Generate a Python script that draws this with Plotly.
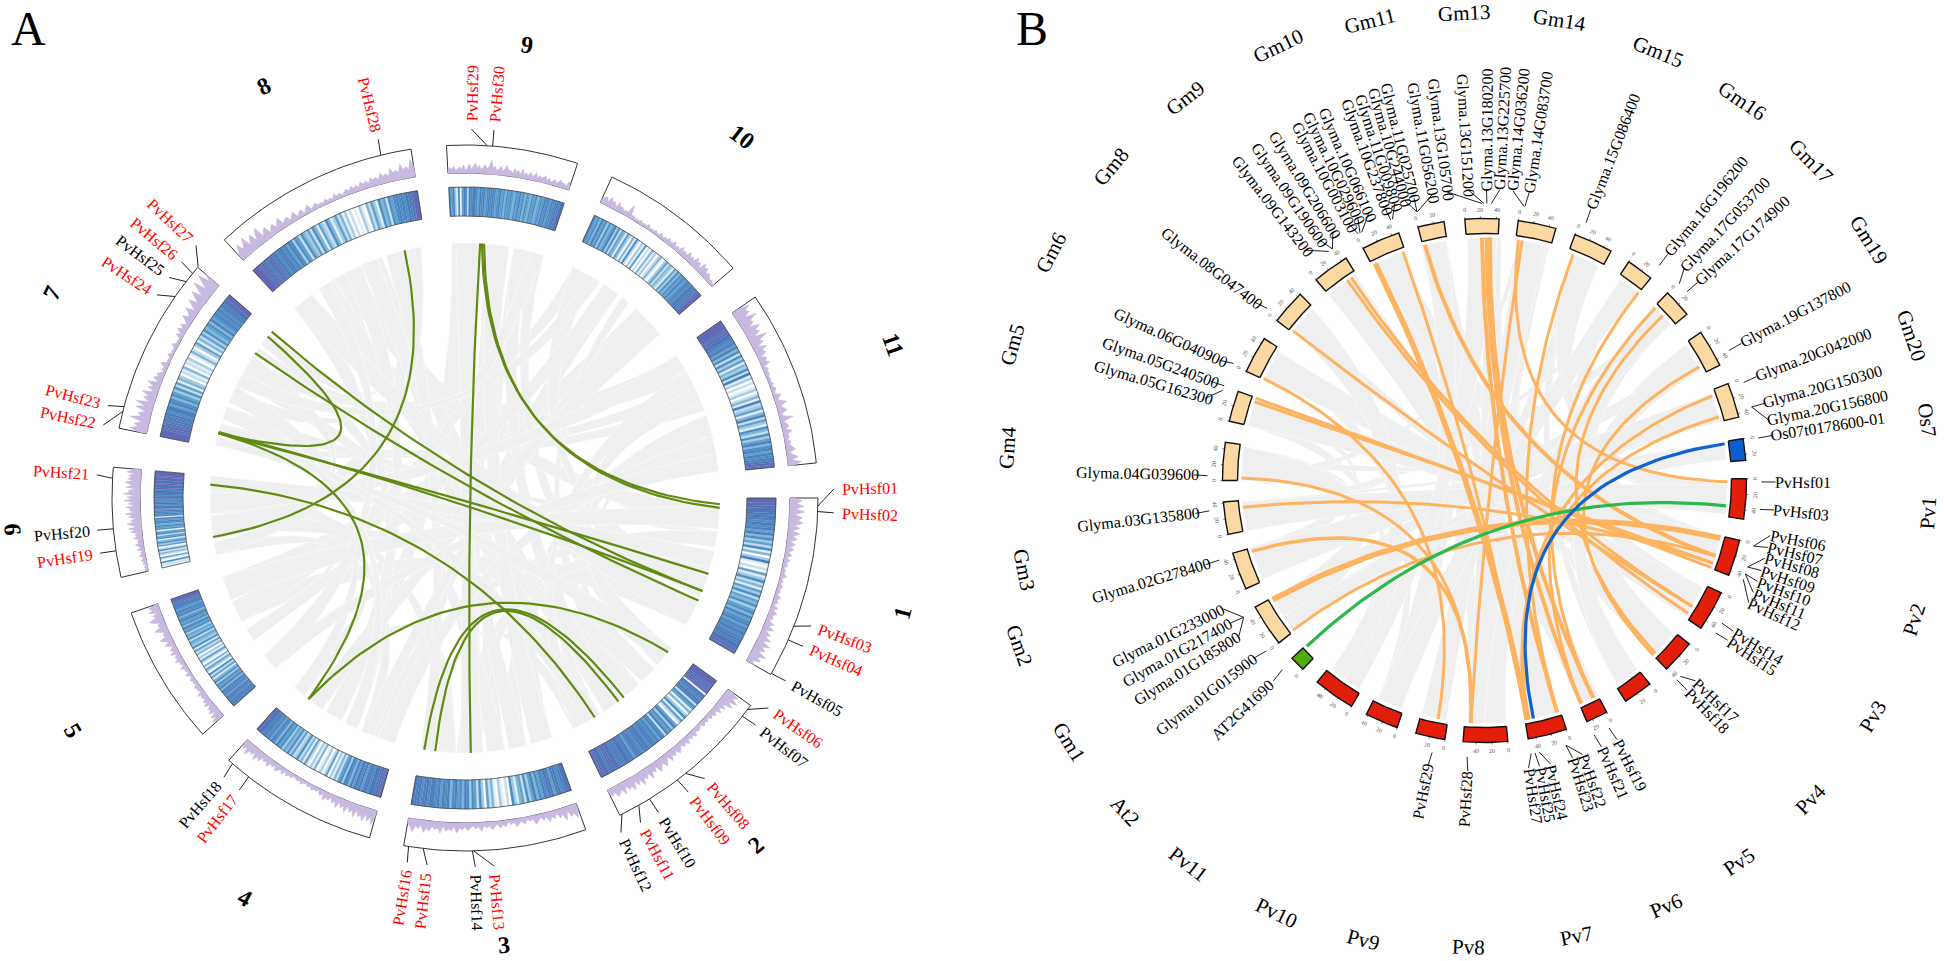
"""Two circos panels: Hsf gene collinearity (A) and synteny across species (B)."""

import math

import plotly.graph_objects as go

# --- panel A data ---------------------------------------------------------
SECTORS_A = ["1", "2", "3", "4", "5", "6", "7", "8", "9", "10", "11"]
SPANS_A = [(90, 120), (126, 154), (160, 190), (195.7, 222), (228, 251), (257, 275),
           (281.4, 310.8), (317, 351.2), (357, 378.6), (24.6, 49.4), (55.3, 84.3)]
SECTOR_LABEL_POS_A = [(104.7, 452), (140, 453), (175, 449), (208.8, 456), (239.4, 456), (266, 453),
                      (296.4, 461), (334, 458), (7.8, 457), (37.5, 455), (70.3, 455)]

HEAT_1 = [9,9,8,9,8,8,7,8,7,6,8,6,7,5,7,4,6,3,5,2,6,1,4,0,3,7,1,0,2,0,5,1,3,6,2,4,1,5,3,6,2,5,4,6,3,5,6,4,7,5,6,7,5,7,6,8,6,7,8,7,8,8,9,8]
HEAT_2 = [9,9,9,8,9,8,9,1,8,7,6,8,7,2,6,5,1,4,0,3,6,1,5,2,0,5,7,3,6,5,7,2,6,7,5,7,6,7,8,6,7,7,8,6,7,8,7,5,8,7,8,8,7,8,7,8,8,9,8,7,8,8,9,8]
HEAT_3 = [8,8,7,6,8,7,5,7,8,6,7,5,6,4,7,5,3,6,2,5,4,1,3,6,0,2,0,1,3,0,1,4,2,5,0,3,6,2,5,6,3,6,7,4,6,5,7,6,4,7,6,7,5,7,6,7,7,6,8,7,6,8,7,8]
HEAT_4 = [9,8,9,7,8,8,6,8,7,5,7,6,8,5,7,4,6,7,3,6,5,2,4,1,3,0,5,2,0,3,1,0,4,1,3,0,2,5,1,4,2,6,3,2,5,3,6,4,5,3,6,5,7,4,6,7,5,7,6,8,7,8,8,9]
HEAT_5 = [8,7,8,6,7,8,5,7,6,8,4,7,5,6,3,6,4,1,5,2,6,0,3,5,1,4,0,2,5,1,3,0,4,2,5,1,6,3,4,5,2,6,4,5,3,6,5,7,4,6,5,7,6,4,7,6,7,5,7,8,7,8,9,9]
HEAT_6 = [0,2,1,6,0,1,5,0,2,4,1,6,2,0,5,3,6,4,1,6,5,2,6,5,0,6,5,7,4,6,7,5,7,1,6,7,6,8,5,7,7,6,8,7,6,8,7,8,7,8,8,7,9,8,8,9,8,8,9,9,8,9,9,9]
HEAT_7 = [9,9,9,8,9,8,7,8,7,8,6,7,7,5,7,6,4,6,5,3,6,2,5,1,4,3,0,2,1,4,0,2,1,3,0,1,4,2,0,3,5,1,4,2,5,3,6,4,5,6,4,7,5,6,7,6,7,6,8,7,8,8,9,9]
HEAT_8 = [9,9,9,8,9,8,7,9,8,7,8,6,7,8,6,7,5,7,6,3,6,5,2,6,4,3,5,2,6,4,1,5,3,2,6,4,1,3,5,2,4,1,3,0,2,0,1,0,3,1,0,4,2,5,3,1,6,4,5,2,6,5,6,7,6,7,6,8,7,8,9,9]
HEAT_9 = [6,5,7,3,1,6,0,5,7,6,2,7,6,7,7,6,5,7,6,7,5,6,7,6,7,6,5,6,7,5,6,4,6,5,6,5,4,6,5,7,5,6,4,6,5,4,6,5,6,4,5,6,5,7,6,7,5,7,6,7,8,7,8,8]
HEAT_10 = [7,5,6,4,7,5,6,3,6,4,5,7,3,6,2,5,4,1,5,3,0,4,1,6,2,0,3,1,5,0,2,0,4,1,3,0,2,4,1,0,3,5,2,4,3,1,5,3,6,4,6,5,7,5,6,7,6,7,7,8,7,8,9,9]
HEAT_11 = [9,9,9,9,8,9,8,8,7,6,8,5,7,4,6,2,6,3,5,1,4,3,6,2,7,1,3,0,2,0,1,3,0,2,4,1,7,2,3,5,1,4,7,2,5,3,1,6,4,2,6,3,5,7,4,6,7,5,7,6,7,8,9,8]
HEATS = [HEAT_1, HEAT_2, HEAT_3, HEAT_4, HEAT_5, HEAT_6, HEAT_7, HEAT_8, HEAT_9, HEAT_10, HEAT_11]

HIST_1 = [4,12,7,14,6,15,5,13,9,14,6,11,4,12,5,10,3,9,4,8,3,7,2,6,3,5,2,4,3,6,2,4,2,5,3,4,2,6,3,5,2,7,3,8,4,6,3,9,5,11,4,10,6,13,5,15,7,12,6,16,8,13,5,9]
HIST_2 = [6,14,9,17,8,15,5,10,4,9,3,7,4,6,2,5,3,6,2,4,5,3,7,4,6,3,8,4,7,3,6,9,4,8,5,10,4,7,11,5,8,12,4,9,6,13,5,10,7,14,6,11,5,13,8,10,4,12,6,9,11,5,8,4]
HIST_3 = [5,14,8,11,4,13,6,9,3,8,5,10,4,7,3,6,9,3,5,2,7,3,5,8,3,5,2,6,4,7,3,5,8,4,6,3,9,4,6,3,5,8,4,7,5,10,4,8,6,9,4,11,6,8,5,10,7,12,5,9,6,13,8,5]
HIST_4 = [5,15,8,13,6,14,9,11,5,13,7,10,4,12,6,9,4,11,5,8,3,7,5,9,3,6,2,4,3,5,2,4,2,3,5,2,4,3,2,5,3,6,2,7,3,5,8,3,6,4,9,5,7,4,10,6,12,5,9,7,13,6,10,4]
HIST_5 = [5,13,7,11,4,10,6,8,3,9,5,7,3,6,4,8,2,5,3,6,2,4,3,5,2,3,6,2,4,3,7,2,5,3,8,4,6,3,9,4,7,3,5,10,4,8,12,5,7,4,9,13,6,8,5,11,14,6,9,4,12,7,10,3]
HIST_6 = [1,3,2,3,1,4,2,5,3,2,6,3,4,2,7,3,5,8,4,6,3,9,5,7,4,11,6,13,5,9,14,7,10,5,12,8,15,6,11,9,14,5,12,7,16,8,13,6,17,10,12,5,14,8,11,15,7,13,9,12,6,14,10,7]
HIST_7 = [6,18,10,14,7,20,9,13,6,17,8,18,5,12,7,15,4,11,6,13,3,9,5,7,2,4,3,8,2,3,2,5,2,3,2,6,2,3,2,7,3,9,4,8,3,6,11,5,8,13,4,9,15,6,11,17,7,14,21,8,16,22,10,18]
HIST_8 = [4,10,16,8,12,18,7,11,15,6,13,17,5,10,12,4,8,10,5,9,12,4,7,8,3,6,9,3,5,7,2,5,8,2,4,6,3,4,2,5,3,4,2,6,3,5,2,4,6,3,7,4,6,3,8,5,7,4,9,6,8,5,11,7,9,6,13,8,10,7,15,9,12,8,18,11]
HIST_9 = [3,6,4,7,3,5,6,4,8,3,5,9,4,7,10,5,8,4,6,9,5,7,14,6,8,4,6,9,4,7,10,5,6,3,8,5,7,3,9,4,6,3,7,5,4,8,3,6,4,5,7,3,6,2,4,6,3,5,7,4,5,3,8,4]
HIST_10 = [3,7,8,4,10,6,7,3,9,5,6,3,5,4,13,3,4,2,3,2,4,2,3,2,5,2,3,2,4,2,3,5,2,4,3,6,3,4,7,2,5,3,8,4,6,3,9,5,7,4,10,6,8,3,11,7,9,4,7,5,3,4,2,3]
HIST_11 = [5,18,12,15,8,20,11,13,7,17,10,14,6,19,9,12,5,13,7,10,3,8,5,9,2,5,3,4,2,3,2,4,2,5,3,2,8,3,5,11,4,6,9,3,4,13,3,5,7,3,9,4,5,3,6,4,7,9,3,6,11,4,14,5]
HISTS = [HIST_1, HIST_2, HIST_3, HIST_4, HIST_5, HIST_6, HIST_7, HIST_8, HIST_9, HIST_10, HIST_11]

# gene name, angle on the ring, angle of the label
GENES_A = [
    ("PvHsf01", 91.3, 88.6), ("PvHsf02", 92.2, 92.3), ("PvHsf03", 111.3, 110.3), ("PvHsf04", 113.7, 113.7),
    ("PvHsf05", 119.8, 119.7), ("PvHsf06", 126.8, 124.7), ("PvHsf07", 128.2, 128), ("PvHsf08", 141.3, 139.5),
    ("PvHsf09", 143, 142.8), ("PvHsf10", 148.5, 148.4), ("PvHsf11", 150.5, 151.6), ("PvHsf12", 153.6, 155),
    ("PvHsf13", 178.6, 175.5), ("PvHsf14", 178.8, 178.4), ("PvHsf15", 186.8, 185.9), ("PvHsf16", 189.2, 189),
    ("PvHsf17", 217.8, 217.7), ("PvHsf18", 221.2, 220.8), ("PvHsf19", 261.4, 261.4), ("PvHsf20", 265, 265),
    ("PvHsf21", 273.2, 273.6), ("PvHsf22", 284.2, 281.4), ("PvHsf23", 285, 284.5), ("PvHsf24", 304.8, 303.4),
    ("PvHsf25", 307.8, 306.7), ("PvHsf26", 309.5, 309.8), ("PvHsf27", 310.9, 313.2), ("PvHsf28", 346.2, 346.4),
    ("PvHsf29", 3.6, 1), ("PvHsf30", 4.5, 4.5),
]
BLACK_A = ["PvHsf05", "PvHsf07", "PvHsf10", "PvHsf12", "PvHsf14", "PvHsf18", "PvHsf20", "PvHsf25"]

GRAY_A = [
    (42,50,246.5,252), (56,62,318,323), (63,66,282,284), (67,70,285,287), (71,75,160,165), (76,79,92,97),
    (80,84,108,113), (25,28,296,299), (29,32,300,303), (33,37,196,200), (38,40,137,141), (357,364,209,213),
    (5,10,176,181), (11,14,171,175), (15,18,126,131), (342,350,260.5,266), (336,341,142,147), (332,335,304,306),
    (329,331,307,310), (325,328,292,295), (97.5,99,288,291), (100,101,166,170), (102,104,148,151), (105,107,132,136),
    (114,120,241,246), (152,155,187,190), (182,186,214,218), (201,204,266.5,271), (205,208,271.5,275),
    (219,222,228,231), (236,239,257,260),
    (92,97,329,335), (97.5,101,200,204), (102,107,176,182), (108,113,25,30), (114,120,63,68),
    (126,131,71,76), (132,136,262,266), (137,141,297,300), (142,147,11,15), (148,151,325,329), (152,155,60,64),
    (160,165,5,10), (166,170,336,340), (171,175,307,310), (176,181,358,363), (182,186,270,274), (187,190,342,346),
    (196,200,76,80), (201,204,42,46), (205,208,318,322), (209,213,332,336), (214,218,46,50), (219,222,292,296),
    (228,231,80,84), (236,239,33,37), (241,246,15,18), (246.5,252,92,97),
    (257,260,347,350), (260.5,266,300,304), (266.5,271,56,60), (271.5,275,102,106),
    (282,284,126,130), (285,287,148,152), (288,291,205,208), (296,299,29,32),
    (318,323,114,120), (325,328,228,232),
]
# start, end, pull of the curve away from the centre
GREEN_A = [
    (346.3,261.2,0.05), (3.4,178.7,0.0), (3.8,91.4,0.15), (4.3,92.2,0.15), (284.7,107.3,0.0), (285,111.4,0.0),
    (304.6,113.7,0.0), (310.7,111.4,0.0), (284.7,309.3,0.13), (284.7,217.9,0.05), (273,149.4,0.1),
    (217.9,127.2,0.2), (189.2,141.5,0.0), (186.7,143,0.0),
]

# --- panel B data ---------------------------------------------------------
SECTORS_B = ["Gm13", "Gm14", "Gm15", "Gm16", "Gm17", "Gm19", "Gm20", "Os7", "Pv1", "Pv2", "Pv3", "Pv4", "Pv5",
             "Pv6", "Pv7", "Pv8", "Pv9", "Pv10", "Pv11", "At2", "Gm1", "Gm2", "Gm3", "Gm4", "Gm5", "Gm6", "Gm8",
             "Gm9", "Gm10", "Gm11"]
SPANS_B = [(355.7,363.2), (7.4,15.8), (20.2,28.9), (33.4,39.4), (44.3,50.6), (55.6,63.9), (68.3,76), (80.8,85.6),
           (89.6,98.5), (103.2,111.2), (115.4,124.3), (128.6,136), (140.9,147.4), (152.2,157), (161.8,170.4),
           (174.9,184.7), (188.7,195.2), (199.5,206.8), (210.5,219.7), (223.9,227.3), (231.7,241.1), (245.6,253.9),
           (258.1,265.3), (270,278.4), (283.1,289.9), (294.6,302.8), (307.6,315.3), (320,328.1), (332.4,340.9),
           (345.3,351.1)]
SECTOR_LABEL_POS_B = [(357.5,468), (9.2,466), (22.1,463), (34.2,459), (45.6,457), (58,453), (71.3,451), (82.3,447),
                      (94.2,445), (107.9,452), (121.2,454), (134.3,456), (146.3,459), (156.9,463), (168.6,465),
                      (182,467), (194.7,475), (205.7,480), (217.7,485), (227.4,489), (237.8,491), (250.5,494),
                      (259,469), (274,478), (286,491), (297.7,490), (310,488), (322,486), (334.6,481), (346,474)]

# gene name, angle at the ring, angle of the label, radius of the label centre
GENES_B = [
    ("Glyma.01G233000",240.4,243.8,352), ("Glyma.01G217400",240.4,240.7,352), ("Glyma.01G185800",240.4,237.6,352),
    ("Glyma.01G015900",232,232.4,351), ("AT2G41690",226.9,226.5,333), ("Glyma.02G278400",253.3,253.2,348),
    ("Glyma.03G135800",263.7,263.5,348), ("Glyma.04G039600",271,271.1,347), ("Glyma.05G162300",289,286.4,345),
    ("Glyma.05G240500",290,289.9,345), ("Glyma.06G040900",295,294.4,345), ("Glyma.08G047400",308.4,307.8,345),
    ("Glyma.09G143200",325.8,322.3,346), ("Glyma.09G190600",326.7,325.6,346), ("Glyma.09G206600",326.7,328.6,346),
    ("Glyma.10G003100",332.9,332.1,343), ("Glyma.10G029600",333.3,334.2,346), ("Glyma.10G066100",333.7,336.5,344),
    ("Glyma.10G237800",340.2,339.9,344), ("Glyma.11G009800",340.6,342,344), ("Glyma.10G244000",345.9,344.1,346),
    ("Glyma.11G025700",345.9,346,348), ("Glyma.11G056200",346,349.7,343), ("Glyma.13G105700",359.5,352.6,344),
    ("Glyma.13G151200",359.9,356.8,346), ("Glyma.13G180200",0.5,0.4,351), ("Glyma.13G225700",1.4,3,353),
    ("Glyma.14G036200",8.2,5.6,353), ("Glyma.14G083700",8.4,8.8,352), ("Glyma.15G086400",21.5,21.4,353),
    ("Glyma.16G196200",39.1,39,352), ("Glyma.17G053700",44.7,43.3,351), ("Glyma.17G174900",47,47.1,352),
    ("Glyma.19G137800",62,61.9,352), ("Glyma.20G042000",69.3,69.1,352), ("Glyma.20G150300",74.6,74.6,351),
    ("Glyma.20G156800",74.6,78.1,351), ("Os07t0178600-01",81.2,81.1,348),
    ("PvHsf01",90.3,90.3,318), ("PvHsf03",96,95.8,318), ("PvHsf06",103.7,100.9,319), ("PvHsf07",103.7,103.3,319),
    ("PvHsf08",108.2,105.5,319), ("PvHsf09",108.2,108,319), ("PvHsf10",109.7,110.3,319), ("PvHsf11",109.7,112.6,319),
    ("PvHsf12",110.9,114.8,319), ("PvHsf14",121,121.2,320), ("PvHsf15",123.4,123.3,320), ("PvHsf17",135,133.5,319),
    ("PvHsf18",136,136,320), ("PvHsf19",153.3,152.9,320), ("PvHsf21",156.7,156.3,319), ("PvHsf22",162.9,160.3,319),
    ("PvHsf23",162.9,162.4,319), ("PvHsf24",168.6,166.9,320), ("PvHsf25",169.5,169.1,320), ("PvHsf27",170.3,171.3,319),
    ("PvHsf28",183.6,183.3,319), ("PvHsf29",190.9,191.2,317),
]

GRAY_B = [
    (91,94,69,72), (94.5,98,56,59), (103,106,44,47), (106.5,111,295,298), (116,120,345,348), (120.5,124,320,324),
    (129,132,308,311), (132.5,136,324.5,328), (141,144,34,37), (144.5,147,21,24), (152,154,359,361.5), (154.5,157,362,364),
    (162,166,10.5,12.5), (166.5,170,333,336), (175,179,13,15.5), (180,184,337,340.5), (189,192,348.5,351),
    (192.5,195,24.5,28), (200,203,356,358.5), (203.5,206,298.5,302), (211,214.5,311.5,315), (215,219,283,286),
    (232,236,72.5,76), (237,241,59.5,63), (246,249,276,278), (250,254,287,290), (258,260,37.5,39), (261,263,47.5,50),
    (264,265,81,83), (273,275,83.5,85), (8,9.5,270,272),
    (91,98,21,28), (103,111,333,340), (116,124,295,302), (129,136,44,50), (141,147,56,63), (152,157,320,328),
    (162,170,345,351), (175,184,360,363), (189,195,8,15), (200,206,345,351), (211,219,308,315), (232,241,270,278),
    (246,254,69,76), (258,265,91,98), (283,290,103,110), (34,39,200,206), (44,50,175,180), (81,85,232,236),
    (356,363,211,215),
]
# Gm end, Pv end, width
ORANGE_B = [
    (240.7,103.7,5.5), (232,108.1,3), (253.1,183.2,3.5), (270.6,183.2,3), (263.7,109.9,3), (289.8,111,3), (288.9,109.9,3),
    (294.8,191,3), (308,121.2,3), (325.6,123.1,3), (326.7,121.2,3), (333.3,169.7,5.5), (340.4,170.2,3), (345.8,108.1,4),
    (359.4,162.6,4), (0.5,156.6,4), (1.3,153.4,4), (8.9,183.2,3), (8,90.3,3), (21.4,162.6,3), (39.3,153.4,3),
    (44.7,156.6,3), (47.2,135.3,3), (62.1,136,3), (69.6,170,3), (74.8,169.7,3),
]
BLUE_B = (81.3, 168.4)
GREEN_B = (227, 96)

# --- layout constants -----------------------------------------------------
CX_A, CY_A = 465, 498
CX_B, CY_B = 1484.5, 480.5
FONT = "Liberation Serif"
HEAT_COLORS = ["#FFFFFF", "#E3EFF7", "#C6DEEE", "#A5CCE4", "#82B6D9", "#62A1CF", "#4C8FC5", "#4A80BE", "#5077BA", "#6369B6"]
RIBBON_GRAY = "#EFEFEF"
PV_GREEN = "#608A12"
ORANGE = "#FDB35F"
TICK_DEG = 3.45


def polar(cx, cy, r, deg):
    a = math.radians(deg)
    return cx + r * math.sin(a), cy - r * math.cos(a)


def arc(cx, cy, r, a1, a2, n=24):
    return [polar(cx, cy, r, a1 + (a2 - a1) * i / n) for i in range(n + 1)]


def bezier(cx, cy, r, a, b, bend=0.05, n=50):
    x0, y0 = polar(cx, cy, r, a)
    x2, y2 = polar(cx, cy, r, b)
    x1 = cx + bend * ((x0 + x2) / 2 - cx)
    y1 = cy + bend * ((y0 + y2) / 2 - cy)
    pts = []
    for i in range(n + 1):
        t = i / n
        pts.append(((1 - t) ** 2 * x0 + 2 * t * (1 - t) * x1 + t ** 2 * x2,
                    (1 - t) ** 2 * y0 + 2 * t * (1 - t) * y1 + t ** 2 * y2))
    return pts


def ribbon(cx, cy, r, a1, a2, b1, b2):
    return (bezier(cx, cy, r, a2, b1, 0.12) + arc(cx, cy, r, b1, b2, 6)
            + bezier(cx, cy, r, b2, a1, 0.12) + arc(cx, cy, r, a1, a2, 6))


def band(cx, cy, r1, r2, a1, a2, n=24):
    pts = arc(cx, cy, r1, a1, a2, n) + arc(cx, cy, r2, a2, a1, n)
    return pts + pts[:1]


def add_path(fig, pts, color, width=1.0, fill=None):
    fig.add_trace(go.Scatter(
        x=[p[0] if p else None for p in pts],
        y=[p[1] if p else None for p in pts],
        mode="lines",
        line=dict(color=color, width=width),
        fill="toself" if fill else None,
        fillcolor=fill,
        hoverinfo="skip",
        showlegend=False,
    ))


def radial_angle(deg):
    deg %= 360
    return deg - 90 if deg < 180 else deg - 270


def tangent_angle(deg):
    deg %= 360
    if deg < 90:
        return deg
    return deg - 180 if deg < 270 else deg - 360


fig = go.Figure()
notes = []


def note(x, y, text, size, angle=0, color="black", bold=False):
    notes.append(dict(
        x=x, y=y, text=f"<b>{text}</b>" if bold else text, textangle=angle, showarrow=False,
        xanchor="center", yanchor="middle", font=dict(family=FONT, size=size, color=color),
    ))


# panel A: ribbons, then rings
for a1, a2, b1, b2 in GRAY_A:
    add_path(fig, ribbon(CX_A, CY_A, 255, a1, a2, b1, b2), "#FFFFFF", 0.5, RIBBON_GRAY)
for a, b, bend in GREEN_A:
    add_path(fig, bezier(CX_A, CY_A, 255, a, b, bend), PV_GREEN, 2.2)

stripes = {level: [] for level in range(10)}
for (start, end), values in zip(SPANS_A, HEATS):
    step = (end - start) / len(values)
    for i, v in enumerate(values):
        stripes[v] += band(CX_A, CY_A, 282, 311, start + i * step, start + (i + 1) * step, 1) + [None]
for level, pts in stripes.items():
    add_path(fig, pts, HEAT_COLORS[level], 0.2, HEAT_COLORS[level])

for (start, end), values in zip(SPANS_A, HISTS):
    add_path(fig, band(CX_A, CY_A, 311, 282, start, end, 30), "#444444", 0.8)
    add_path(fig, band(CX_A, CY_A, 353, 325, start, end, 30), "#333333", 1.0)
    step = (end - start) / (len(values) - 1)
    top = [polar(CX_A, CY_A, 325 + v, start + i * step) for i, v in enumerate(values)]
    add_path(fig, top + arc(CX_A, CY_A, 325, end, start, 8), "#C7B9DF", 0.6, "#C7B9DF")

leaders_a = []
for name, ring, lab in GENES_A:
    leaders_a += [polar(CX_A, CY_A, 353, ring), polar(CX_A, CY_A, 369, lab), None]
    x, y = polar(CX_A, CY_A, 405, lab)
    note(x, y, name, 16, radial_angle(lab), "black" if name in BLACK_A else "#FF0000")
add_path(fig, leaders_a, "#222222", 1.0)

for label, (deg, r) in zip(SECTORS_A, SECTOR_LABEL_POS_A):
    x, y = polar(CX_A, CY_A, r, deg)
    note(x, y, label, 24, tangent_angle(deg), bold=True)

# panel B: ribbons, then sector boxes
for a1, a2, b1, b2 in GRAY_B:
    add_path(fig, ribbon(CX_B, CY_B, 243, a1, a2, b1, b2), "#FFFFFF", 0.5, RIBBON_GRAY)
for a, b, w in ORANGE_B:
    add_path(fig, bezier(CX_B, CY_B, 243, a, b), ORANGE, w)
add_path(fig, bezier(CX_B, CY_B, 243, GREEN_B[0], GREEN_B[1], 0.0), "#2DB84B", 3.2)
add_path(fig, bezier(CX_B, CY_B, 243, BLUE_B[0], BLUE_B[1], 0.0), "#1162D1", 3.2)

ticks = []
for label, (start, end) in zip(SECTORS_B, SPANS_B):
    if label.startswith("Pv"):
        color = "#E31E0A"
    elif label.startswith("Gm"):
        color = "#FCD8A2"
    elif label == "At2":
        color = "#4FAE0A"
    else:
        color = "#0B5ED2"
    add_path(fig, band(CX_B, CY_B, 247, 262, start, end, 12), "#111111", 1.4, color)
    for k in range(int((end - start) / TICK_DEG) + 1):
        deg = start + k * TICK_DEG
        ticks += [polar(CX_B, CY_B, 262, deg), polar(CX_B, CY_B, 264, deg), None]
        x, y = polar(CX_B, CY_B, 271, deg)
        note(x, y, str(k * 20), 6, tangent_angle(deg), "#555555")
add_path(fig, ticks, "#333333", 0.7)

leaders_b = []
for name, ring, lab, r in GENES_B:
    leaders_b += [polar(CX_B, CY_B, 277, ring), polar(CX_B, CY_B, 291, lab), None]
    x, y = polar(CX_B, CY_B, r, lab)
    note(x, y, name, 16, radial_angle(lab))
add_path(fig, leaders_b, "#222222", 1.0)

for label, (deg, r) in zip(SECTORS_B, SECTOR_LABEL_POS_B):
    x, y = polar(CX_B, CY_B, r, deg)
    note(x, y, label, 21, tangent_angle(deg))

note(28, 28, "A", 48)
note(1032, 28, "B", 48)

fig.update_layout(
    width=1944,
    height=961,
    margin=dict(l=0, r=0, t=0, b=0),
    paper_bgcolor="white",
    plot_bgcolor="white",
    xaxis=dict(range=[0, 1944], visible=False, fixedrange=True),
    yaxis=dict(range=[961, 0], visible=False, fixedrange=True),
    annotations=notes,
    showlegend=False,
)

fig.write_html(
    "out.html",
    config={"displayModeBar": False},
    post_script="document.body.style.margin='0';document.body.style.overflow='hidden';",
)
